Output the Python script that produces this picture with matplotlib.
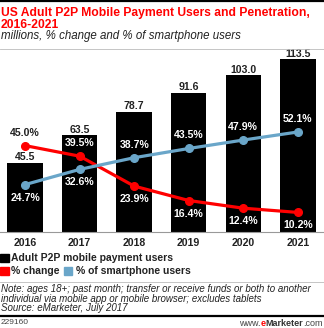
import matplotlib.pyplot as plt
from matplotlib.lines import Line2D
from matplotlib.patches import Rectangle

plt.rcParams['font.family'] = ['Liberation Sans', 'DejaVu Sans']

years = ['2016', '2017', '2018', '2019', '2020', '2021']
users = [45.5, 63.5, 78.7, 91.6, 103.0, 113.5]
pct_change = [45.0, 39.5, 23.9, 16.4, 12.4, 10.2]
pct_smartphone = [24.7, 32.6, 38.7, 43.5, 47.9, 52.1]

RED = '#ff0000'
BLUE = '#6aa6c9'
W, H = 324, 328

fig = plt.figure(figsize=(W / 100, H / 100), dpi=100)


def fx(px):
    return px / W


def fy(py):
    return 1 - py / H


# header
fig.add_artist(Line2D([0, 1], [fy(1), fy(1)], color='black', lw=1.6))
fig.text(fx(1), fy(16), 'US Adult P2P Mobile Payment Users and Penetration,',
         color=RED, fontsize=8.7, fontweight='bold', va='baseline', ha='left')
fig.text(fx(1), fy(28), '2016-2021',
         color=RED, fontsize=8.7, fontweight='bold', va='baseline', ha='left')
fig.text(fx(1), fy(39.5), 'millions, % change and % of smartphone users',
         fontsize=8.3, style='italic', va='baseline', ha='left', color='#222222')
fig.add_artist(Line2D([0, 1], [fy(48.5), fy(48.5)], color='#bbbbbb', lw=0.6))

# chart
ax = fig.add_axes([0, fy(232), 1, (232 - 55) / H])
x = list(range(len(years)))
ax.bar(x, users, width=0.65, color='black', zorder=1)
ax.set_xlim(-0.46, 5.48)
ax.set_ylim(0, 116.4)
for xi, v in zip(x, users):
    ax.annotate(f'{v:.1f}', (xi, v), xytext=(0, 4.2), textcoords='offset points',
                ha='center', va='center', fontsize=7.6, fontweight='bold', color='#222222')
for s in ax.spines.values():
    s.set_visible(False)
ax.spines['bottom'].set_visible(True)
ax.spines['bottom'].set_color('#999999')
ax.spines['bottom'].set_linewidth(0.8)
ax.set_yticks([])
ax.set_xticks(x)
ax.set_xticklabels(years, fontsize=7.6, fontweight='bold', color='#222222')
ax.tick_params(axis='x', length=0, pad=4)

ax2 = ax.twinx()
ax2.set_ylim(0, 92.2)
ax2.set_yticks([])
for s in ax2.spines.values():
    s.set_visible(False)
ax2.plot(x, pct_change, color=RED, lw=2.3, marker='o', ms=5.5, zorder=3)
ax2.plot(x, pct_smartphone, color=BLUE, lw=2.3, marker='o', ms=5.5, zorder=3)


def pct_label(i, v, up, color):
    ax2.annotate(f'{v:.1f}%', (i, v), xytext=(0, 9.4 if up else -9.4),
                 textcoords='offset points', ha='center', va='center',
                 fontsize=7.6, fontweight='bold', color=color)


# % change labels: first two above, rest below
for i, v in enumerate(pct_change):
    pct_label(i, v, i < 2, '#222222' if i == 0 else 'white')
# % of smartphone users labels: first two below, rest above
for i, v in enumerate(pct_smartphone):
    pct_label(i, v, i >= 2, 'white')

# legend
fig.add_artist(Rectangle((fx(0), fy(261.5)), fx(8.5), 8 / H, color='black'))
fig.text(fx(11), fy(261), 'Adult P2P mobile payment users', fontsize=7.5,
         fontweight='bold', va='baseline', ha='left', color='#222222')
fig.add_artist(Rectangle((fx(0), fy(274.5)), fx(8.5), 8 / H, color=RED))
fig.text(fx(11), fy(274), '% change', fontsize=7.5, fontweight='bold',
         va='baseline', ha='left', color='#222222')
fig.add_artist(Rectangle((fx(63.5), fy(274.5)), fx(8.5), 8 / H, color=BLUE))
fig.text(fx(75.5), fy(274), '% of smartphone users', fontsize=7.5, fontweight='bold',
         va='baseline', ha='left', color='#222222')
fig.add_artist(Line2D([0, 1], [fy(282), fy(282)], color='#bbbbbb', lw=0.6))

# notes
fig.text(fx(1), fy(284), 'Note: ages 18+; past month; transfer or receive funds or both to another\n'
         'individual via mobile app or mobile browser; excludes tablets\n'
         'Source: eMarketer, July 2017', fontsize=7.05, style='italic', va='top',
         ha='left', color='#222222', linespacing=0.95)
fig.add_artist(Line2D([0, 1], [fy(316), fy(316)], color='black', lw=1.6))
fig.text(fx(1), fy(323), '229160', fontsize=6, va='center', ha='left', color='#444444')

# footer logo, built right to left
t1 = fig.text(fx(323), fy(323), '.com', fontsize=6.5, va='center', ha='right', color='#444444')
fig.canvas.draw()
r = fig.canvas.get_renderer()
bb = t1.get_window_extent(r)
t2 = fig.text(bb.x0 / W, fy(323), 'Marketer', fontsize=6.5, fontweight='bold',
              va='center', ha='right', color='#333333')
bb = t2.get_window_extent(r)
t3 = fig.text(bb.x0 / W, fy(323), 'e', fontsize=6.5, fontweight='bold',
              va='center', ha='right', color=RED)
bb = t3.get_window_extent(r)
fig.text(bb.x0 / W, fy(323), 'www.', fontsize=6.5, va='center', ha='right', color='#444444')

fig.savefig('out.png', dpi=100)
